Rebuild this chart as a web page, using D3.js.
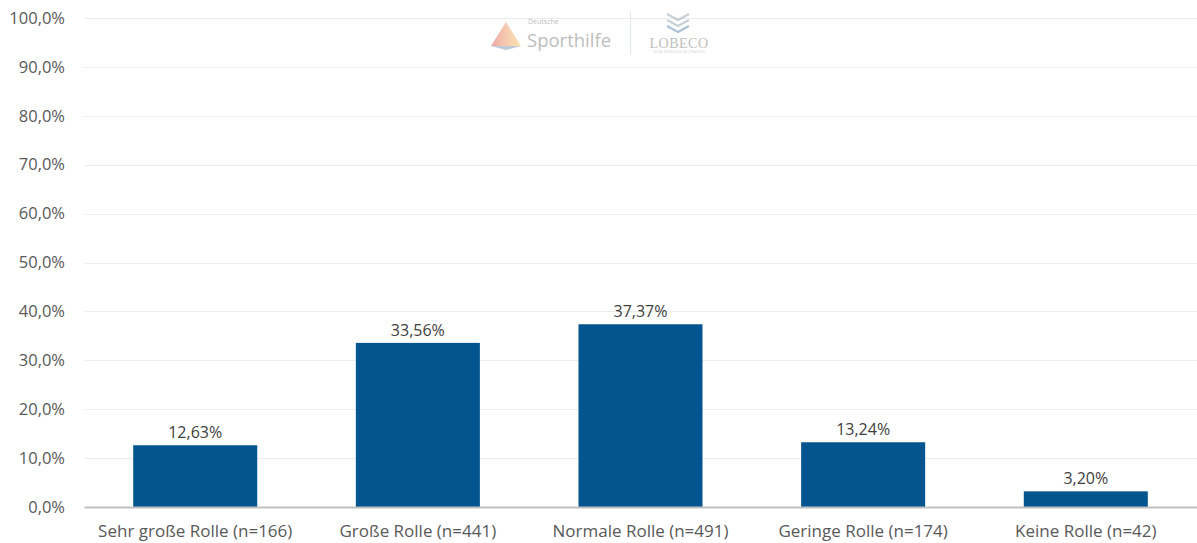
<!DOCTYPE html>
<html><head><meta charset="utf-8">
<script src="https://cdn.jsdelivr.net/npm/d3@7"></script>
<style>body{margin:0;background:#fff}svg{display:block;font-family:"Open Sans","Noto Sans",sans-serif}</style>
</head><body><svg id="c" width="1197" height="543"></svg>
<script>
const categories = ["Sehr große Rolle (n=166)","Große Rolle (n=441)","Normale Rolle (n=491)","Geringe Rolle (n=174)","Keine Rolle (n=42)"];
const values = [12.63, 33.56, 37.37, 13.24, 3.20];
const valueLabels = ["12,63%","33,56%","37,37%","13,24%","3,20%"];
const yTicks = [0,10,20,30,40,50,60,70,80,90,100];
const yTickLabels = ["0,0%","10,0%","20,0%","30,0%","40,0%","50,0%","60,0%","70,0%","80,0%","90,0%","100,0%"];

const svg = d3.select("#c");
const m = {l:84, r:0, t:18, b:36};
const W = 1197, H = 543;
const x = d3.scaleBand().domain(categories).range([m.l, W-m.r]).paddingInner(0.443).paddingOuter(0.221);
const y = d3.scaleLinear().domain([0,100]).range([H-m.b, m.t]);

// grid
svg.append("g").selectAll("line").data(yTicks.slice(1)).join("line")
  .attr("x1", m.l).attr("x2", W-m.r).attr("y1", d=>Math.round(y(d))+0.5).attr("y2", d=>Math.round(y(d))+0.5)
  .attr("stroke","#ececec").attr("stroke-width",1);

// logo watermark
const lg = svg.append("g").attr("opacity",0.55);
const defs = svg.append("defs");
const gr = defs.append("linearGradient").attr("id","tg").attr("x1","0").attr("x2","1").attr("y1","0").attr("y2","0");
gr.append("stop").attr("offset","0").attr("stop-color","#e06060");
gr.append("stop").attr("offset","0.5").attr("stop-color","#f0a070");
gr.append("stop").attr("offset","1").attr("stop-color","#f5d070");
lg.append("path").attr("d","M506,22 L491,46 L521,46 Z").attr("fill","url(#tg)");
lg.append("path").attr("d","M491,46 L521,46 L506,50 Z").attr("fill","#8aa0b8");
lg.append("text").attr("x",528).attr("y",24).attr("font-size",7).attr("fill","#888").text("Deutsche");
lg.append("text").attr("x",527).attr("y",47).attr("font-size",18.5).attr("fill","#888").text("Sporthilfe");
lg.append("line").attr("x1",630.5).attr("x2",630.5).attr("y1",12).attr("y2",55).attr("stroke","#c8d4e0");
[0,6,12].forEach((o,i)=>lg.append("path").attr("d",`M667,${14+o} L678,${20+o} L689,${14+o}`).attr("fill","none").attr("stroke",i==2?"#6a8fb8":"#9aaabb").attr("stroke-width",2));
lg.append("text").attr("x",679).attr("y",48).attr("text-anchor","middle").attr("font-family","Liberation Serif, serif").attr("font-size",14).attr("fill","#888").attr("letter-spacing",0.5).text("LOBECO");
lg.append("text").attr("x",679).attr("y",53).attr("text-anchor","middle").attr("font-size",3).attr("fill","#aaa").text("SOCIAL MEDIA & DIGITAL STRATEGIES");

// bars
svg.append("g").selectAll("rect").data(values).join("rect")
  .attr("x",(d,i)=>x(categories[i])).attr("width",x.bandwidth())
  .attr("y",d=>y(d)).attr("height",d=>y(0)-y(d)).attr("fill","#02558f");

// value labels
svg.append("g").selectAll("text").data(values).join("text")
  .attr("x",(d,i)=>x(categories[i])+x.bandwidth()/2).attr("y",d=>y(d)-7)
  .attr("text-anchor","middle").attr("font-size",16).attr("fill","#404040").text((d,i)=>valueLabels[i]);

// x axis
const xa = svg.append("g").attr("transform",`translate(0,${y(0)})`).call(d3.axisBottom(x).tickSize(0).tickPadding(18));
xa.select(".domain").attr("stroke","#bfbfbf").attr("stroke-width",2);
xa.selectAll("text").attr("font-size",17).attr("fill","#595959").attr("font-family","Open Sans, sans-serif");

// y axis
const ya = svg.append("g").attr("transform",`translate(${m.l},0)`)
  .call(d3.axisLeft(y).tickValues(yTicks).tickFormat((d,i)=>yTickLabels[i]).tickSize(0).tickPadding(19));
ya.select(".domain").remove();
ya.selectAll("text").attr("font-size",16.5).attr("fill","#595959").attr("font-family","Open Sans, sans-serif");
</script></body></html>
